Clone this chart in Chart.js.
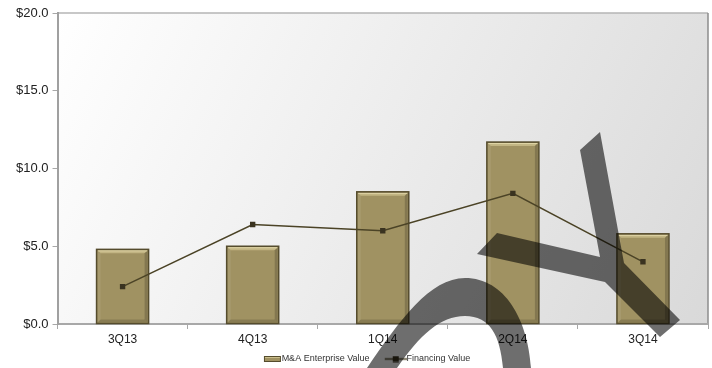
<!DOCTYPE html>
<html>
<head>
<meta charset="utf-8">
<script src="https://cdn.jsdelivr.net/npm/chart.js@4/dist/chart.umd.min.js"></script>
<style>
	html, body { margin: 0; padding: 0; background: #fff; }
	#wrap { width: 712px; height: 368px; }
</style>
</head>
<body>
<div id="wrap"><canvas id="myChart" width="712" height="368"></canvas></div>

<script>
	// quarterly values, $ billions
	var quarters = ['3Q13', '4Q13', '1Q14', '2Q14', '3Q14'];
	var enterpriseValue = [4.8, 5.0, 8.5, 11.7, 5.8];
	var financingValue = [2.4, 6.4, 6.0, 8.4, 4.0];
	var yMax = 20;
	var yStep = 5;

	var barFill = '#a09262';
	var barEdge = '#554c2d';
	var lineColor = '#4b4326';

	// legend swatches: drawn flush right so they sit against the label text
	var ICON_W = 34;

	function barIcon() {
		var c = document.createElement('canvas');
		c.width = ICON_W; c.height = 6;
		var g = c.getContext('2d');
		var x0 = ICON_W - 18;
		g.fillStyle = barFill;
		g.fillRect(x0, 0, 17, 6);
		g.fillStyle = '#cbbf8c';
		g.fillRect(x0 + 1, 1, 15, 1);
		g.strokeStyle = barEdge;
		g.lineWidth = 1;
		g.strokeRect(x0 + 0.5, 0.5, 16, 5);
		return c;
	}

	function lineIcon() {
		var c = document.createElement('canvas');
		c.width = ICON_W; c.height = 7;
		var g = c.getContext('2d');
		var x0 = ICON_W - 22;
		g.strokeStyle = lineColor;
		g.lineWidth = 1.5;
		g.beginPath();
		g.moveTo(x0, 3.5);
		g.lineTo(ICON_W, 3.5);
		g.stroke();
		g.fillStyle = '#3a3320';
		g.fillRect(x0 + 8, 0.5, 6, 6);
		return c;
	}

	// plot background + top/right frame
	var plotBackground = {
		id: 'plotBackground',
		beforeDraw: function(chart) {
			var ctx = chart.ctx, a = chart.chartArea;
			var grad = ctx.createLinearGradient(a.left, a.top, a.right, a.bottom);
			grad.addColorStop(0, '#ffffff');
			grad.addColorStop(1, '#d9d9d9');
			ctx.save();
			ctx.fillStyle = grad;
			ctx.fillRect(a.left, a.top, a.right - a.left, a.bottom - a.top);
			ctx.strokeStyle = '#b4b4b4';
			ctx.lineWidth = 1.5;
			ctx.beginPath();
			ctx.moveTo(a.left, a.top);
			ctx.lineTo(a.right, a.top);
			ctx.stroke();
			ctx.strokeStyle = '#8c8c8c';
			ctx.beginPath();
			ctx.moveTo(a.right, a.top);
			ctx.lineTo(a.right, a.bottom);
			ctx.stroke();
			ctx.restore();
		}
	};

	// bevelled edges on the columns
	var bevel = {
		id: 'bevel',
		afterDatasetDraw: function(chart, args) {
			if (args.meta.type !== 'bar') return;
			var ctx = chart.ctx;
			ctx.save();
			args.meta.data.forEach(function(bar) {
				var l = bar.x - bar.width / 2, r = bar.x + bar.width / 2;
				var t = bar.y, b = bar.base, d = 4;

				ctx.fillStyle = '#c2b583';
				ctx.beginPath();
				ctx.moveTo(l + 1, t + 1); ctx.lineTo(r - 1, t + 1);
				ctx.lineTo(r - d, t + d); ctx.lineTo(l + d, t + d);
				ctx.closePath(); ctx.fill();

				ctx.fillStyle = 'rgba(255,255,255,0.08)';
				ctx.beginPath();
				ctx.moveTo(l + 1, t + 1); ctx.lineTo(l + d, t + d);
				ctx.lineTo(l + d, b - d); ctx.lineTo(l + 1, b - 1);
				ctx.closePath(); ctx.fill();

				ctx.fillStyle = 'rgba(0,0,0,0.18)';
				ctx.beginPath();
				ctx.moveTo(r - 1, t + 1); ctx.lineTo(r - d, t + d);
				ctx.lineTo(r - d, b - d); ctx.lineTo(r - 1, b - 1);
				ctx.closePath(); ctx.fill();

				ctx.fillStyle = 'rgba(0,0,0,0.15)';
				ctx.beginPath();
				ctx.moveTo(l + 1, b - 1); ctx.lineTo(r - 1, b - 1);
				ctx.lineTo(r - d, b - d); ctx.lineTo(l + d, b - d);
				ctx.closePath(); ctx.fill();

				ctx.strokeStyle = '#e0d6a8';
				ctx.lineWidth = 1;
				ctx.beginPath();
				ctx.moveTo(l + 1.5, t + 1.5); ctx.lineTo(r - 1.5, t + 1.5);
				ctx.stroke();

				ctx.strokeStyle = barEdge;
				ctx.lineWidth = 1.5;
				ctx.strokeRect(l, t, r - l, b - t);
			});
			ctx.restore();
		}
	};

	// translucent stamp laid over the whole figure
	var stamp = {
		id: 'stamp',
		afterDraw: function(chart) {
			var ctx = chart.ctx;
			ctx.save();
			ctx.fillStyle = 'rgba(0,0,0,0.57)';

			ctx.beginPath();
			ctx.moveTo(367, 368);
			ctx.bezierCurveTo(400, 320, 430, 278, 465, 278);
			ctx.bezierCurveTo(505, 278, 528, 320, 531, 368);
			ctx.lineTo(503, 368);
			ctx.bezierCurveTo(500, 335, 490, 316, 465, 316);
			ctx.bezierCurveTo(440, 316, 420, 335, 397, 368);
			ctx.closePath();
			ctx.fill();

			var pts = [[580, 150], [600, 132], [624, 263], [680, 320], [660, 337],
				[605, 282], [477, 254], [497, 233], [600, 257]];
			ctx.beginPath();
			pts.forEach(function(p, i) {
				if (i == 0) ctx.moveTo(p[0], p[1]); else ctx.lineTo(p[0], p[1]);
			});
			ctx.closePath();
			ctx.fill();
			ctx.restore();
		}
	};

	Chart.defaults.font.family = '"Liberation Sans", Arial, sans-serif';
	Chart.defaults.color = '#222';

	var legendIcons = [barIcon(), lineIcon()];

	var ctx = document.getElementById('myChart').getContext('2d');
	var myChart = new Chart(ctx, {
		type: 'bar',
		data: {
			labels: quarters,
			datasets: [{
				type: 'bar',
				label: 'M&A Enterprise Value',
				data: enterpriseValue,
				backgroundColor: barFill,
				borderWidth: 0,
				categoryPercentage: 1,
				barPercentage: 0.4,
				order: 2
			}, {
				type: 'line',
				label: 'Financing Value',
				data: financingValue,
				borderColor: lineColor,
				borderWidth: 1.5,
				backgroundColor: '#3a3320',
				pointStyle: 'rect',
				pointRadius: 3.8,
				pointBorderWidth: 0,
				tension: 0,
				fill: false,
				order: 1
			}]
		},
		plugins: [plotBackground, bevel, stamp],
		options: {
			responsive: false,
			animation: false,
			devicePixelRatio: 1,
			layout: { padding: { top: 13, right: 1, left: 12, bottom: -5.5 } },
			plugins: {
				tooltip: { enabled: false },
				legend: {
					position: 'bottom',
					labels: {
						usePointStyle: true,
						pointStyleWidth: 24.5,
						padding: 8,
						color: '#333',
						font: { size: 9 },
						generateLabels: function(chart) {
							return chart.data.datasets.map(function(ds, i) {
								return {
									text: ds.label,
									pointStyle: legendIcons[i],
									datasetIndex: i,
									hidden: false,
									lineWidth: 0,
									fontColor: '#333'
								};
							});
						}
					}
				}
			},
			scales: {
				x: {
					afterFit: function(scale) { scale.height = 22.5; },
					grid: {
						drawOnChartArea: false,
						drawTicks: true,
						tickLength: 5,
						color: '#a8a8a8'
					},
					border: { color: '#a8a8a8', width: 2 },
					ticks: { font: { size: 12 }, color: '#222', padding: 3 }
				},
				y: {
					min: 0,
					max: yMax,
					grid: {
						drawOnChartArea: false,
						drawTicks: true,
						tickLength: 5,
						color: '#a8a8a8'
					},
					border: { color: '#a0a0a0', width: 2 },
					ticks: {
						stepSize: yStep,
						font: { size: 13 },
						color: '#222',
						padding: 4,
						callback: function(v) { return '$' + v.toFixed(1); }
					}
				}
			}
		}
	});
</script>
</body>
</html>
